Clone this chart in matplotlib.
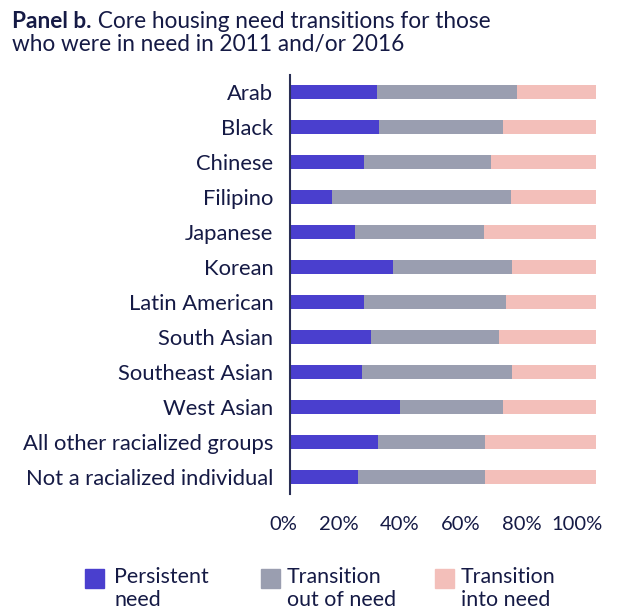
import matplotlib
matplotlib.use("Agg")
import matplotlib.pyplot as plt
import matplotlib.transforms as mtrans
from matplotlib.patches import Rectangle

plt.rcParams['font.family'] = ['Lato', 'DejaVu Sans']

groups = ['Arab', 'Black', 'Chinese', 'Filipino', 'Japanese', 'Korean',
          'Latin American', 'South Asian', 'Southeast Asian', 'West Asian',
          'All other racialized groups', 'Not a racialized individual']
persistent = [28.4, 29.0, 24.2, 13.6, 21.2, 33.5, 24.1, 26.4, 23.4, 35.9, 28.8, 22.1]
out_of_need = [45.8, 40.7, 41.4, 58.6, 42.2, 39.0, 46.5, 42.0, 49.1, 33.7, 35.0, 41.6]
into_need = [25.8, 30.3, 34.4, 27.8, 36.6, 27.5, 29.4, 31.6, 27.5, 30.4, 36.2, 36.3]
xticks = [0, 20, 40, 60, 80, 100]
xtick_labels = ['0%', '20%', '40%', '60%', '80%', '100%']
series_names = ['Persistent\nneed', 'Transition\nout of need', 'Transition\ninto need']

c_blue = '#4a3fce'
c_gray = '#9a9eb0'
c_pink = '#f3bfba'
txt = '#151a45'

W, H = 618, 614
fig = plt.figure(figsize=(W / 100, H / 100), dpi=100)
ax = fig.add_axes([290 / W, 1 - 494 / H, 306 / W, 419 / H])

y = list(range(len(groups)))
left3 = [a + b for a, b in zip(persistent, out_of_need)]
ax.barh(y, persistent, height=0.4, color=c_blue)
ax.barh(y, out_of_need, left=persistent, height=0.4, color=c_gray)
ax.barh(y, into_need, left=left3, height=0.4, color=c_pink)

ax.set_ylim(len(groups) - 0.5, -0.5)
ax.set_xlim(0, 100)
ax.set_yticks(y)
ax.set_yticklabels(groups, fontsize=15.8, color=txt)
ax.tick_params(axis='y', length=0, pad=12)
ax.set_xticks(xticks)
ax.set_xticklabels(xtick_labels, fontsize=14.5, color=txt, ha='right')
ax.tick_params(axis='x', length=0, pad=16)
offset = mtrans.ScaledTranslation(7 / 100, 0, fig.dpi_scale_trans)
for lab in ax.get_xticklabels():
    lab.set_transform(lab.get_transform() + offset)

for s in ['top', 'right', 'bottom']:
    ax.spines[s].set_visible(False)
ax.spines['left'].set_color('#2a2f55')
ax.spines['left'].set_linewidth(1.5)

# title
t1 = fig.text(12 / W, 1 - 28 / H, 'Panel b.', fontsize=16.3, fontweight='bold',
              color=txt, va='baseline', ha='left')
fig.canvas.draw()
ax.annotate(' Core housing need transitions for those', xy=(1, 0),
            xycoords=t1, va='bottom', ha='left', fontsize=16.3, color=txt,
            annotation_clip=False)
fig.text(12 / W, 1 - 51 / H, 'who were in need in 2011 and/or 2016', fontsize=16.3,
         color=txt, va='baseline', ha='left')

# legend
sq_x = [85, 261, 435]
lab_x = [114, 287, 461]
colors = [c_blue, c_gray, c_pink]
for sx, lx, col, name in zip(sq_x, lab_x, colors, series_names):
    fig.add_artist(Rectangle((sx / W, 1 - 588 / H), 19 / W, 19 / H,
                             transform=fig.transFigure, color=col))
    fig.text(lx / W, 1 - 567 / H, name, fontsize=15.4, color=txt,
             va='top', ha='left', linespacing=1.2)

fig.savefig('out.png', dpi=100)
